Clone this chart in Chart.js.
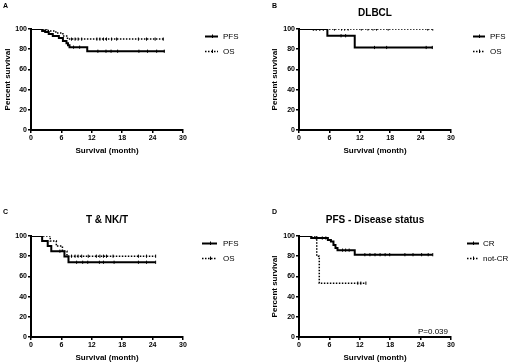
<!DOCTYPE html>
<html>
<head>
<meta charset="utf-8">
<script src="https://cdn.jsdelivr.net/npm/chart.js@4.4.1/dist/chart.umd.min.js"></script>
<style>
  html, body { margin: 0; padding: 0; background: #fff; }
  body { width: 520px; height: 364px; position: relative; overflow: hidden; font-family: Arial, "Liberation Sans", sans-serif; }
  .panel { position: absolute; width: 260px; height: 182px; }
  .letter { position: absolute; font: bold 7px/8px Arial, "Liberation Sans", sans-serif; color: #000; }
</style>
</head>
<body>
<div class="panel" style="left:0;top:0"><canvas id="cA" width="260" height="182"></canvas></div>
<div class="panel" style="left:260px;top:0"><canvas id="cB" width="260" height="182"></canvas></div>
<div class="panel" style="left:0;top:182px"><canvas id="cC" width="260" height="182"></canvas></div>
<div class="panel" style="left:260px;top:182px"><canvas id="cD" width="260" height="182"></canvas></div>
<div class="letter" style="left:3px;top:2px">A</div>
<div class="letter" style="left:272px;top:2px">B</div>
<div class="letter" style="left:3px;top:208px">C</div>
<div class="letter" style="left:272px;top:208px">D</div>
<script>
// ---------- tick labels ----------
const monthTicks = [0, 6, 12, 18, 24, 30];
const percentTicks = [0, 20, 40, 60, 80, 100];

// ---------- Panel A: all patients ----------
const aPfsTime = [0, 2.2, 2.8, 3.5, 4.3, 5.5, 6.3, 7.0, 7.3, 7.6, 11.1, 26.4];
const aPfsSurv = [100, 98, 97, 95, 93, 91, 88, 86, 84, 82, 78, 78];
const aPfsCensTime = [8.4, 9.6, 13.2, 14.8, 15.8, 17.1, 21.3, 23.0, 24.8, 26.3];
const aPfsCensSurv = [82, 82, 78, 78, 78, 78, 78, 78, 78, 78];
const aOsTime = [0, 3.4, 4.9, 6.3, 7.2, 26.4];
const aOsSurv = [100, 98, 96, 93, 90, 90];
const aOsCensTime = [2.9, 8.0, 8.7, 9.3, 10.0, 13.0, 13.6, 14.3, 14.9, 15.9, 16.9, 21.2, 22.8, 24.5, 26.1];
const aOsCensSurv = [100, 90, 90, 90, 90, 90, 90, 90, 90, 90, 90, 90, 90, 90, 90];

// ---------- Panel B: DLBCL ----------
const bPfsTime = [0, 5.6, 11.0, 26.4];
const bPfsSurv = [100, 93.3, 81.7, 81.7];
const bPfsCensTime = [2.9, 3.4, 4.1, 4.8, 8.3, 9.2, 14.9, 17.3, 25.1, 26.3];
const bPfsCensSurv = [100, 100, 100, 100, 93.3, 93.3, 81.7, 81.7, 81.7, 81.7];
const bOsTime = [0, 26.4];
const bOsSurv = [100, 100];
const bOsCensTime = [2.8, 3.4, 4.1, 4.8, 7.0, 8.4, 9.0, 9.7, 12.3, 13.6, 14.6, 15.3, 17.6, 25.4, 26.4];
const bOsCensSurv = [100, 100, 100, 100, 100, 100, 100, 100, 100, 100, 100, 100, 100, 100, 100];

// ---------- Panel C: T & NK/T ----------
const cPfsTime = [0, 2.2, 3.3, 4.0, 6.6, 7.4, 24.6];
const cPfsSurv = [100, 95, 90, 85, 79.7, 74, 74];
const cPfsCensTime = [5.7, 9.0, 10.2, 11.2, 13.5, 14.3, 16.4, 21.2, 22.8, 24.6];
const cPfsCensSurv = [85, 74, 74, 74, 74, 74, 74, 74, 74, 74];
const cOsTime = [0, 3.8, 5.0, 6.2, 7.1, 24.6];
const cOsSurv = [100, 95, 90, 85, 80, 80];
const cOsCensTime = [8.0, 8.7, 9.3, 10.0, 11.3, 12.9, 13.6, 14.3, 14.9, 16.2, 21.2, 22.8, 24.6];
const cOsCensSurv = [80, 80, 80, 80, 80, 80, 80, 80, 80, 80, 80, 80, 80];

// ---------- Panel D: PFS by disease status ----------
const dCrTime = [0, 2.4, 5.7, 6.3, 6.8, 7.2, 7.6, 11.0, 26.4];
const dCrSurv = [100, 98, 96, 94.5, 91, 88, 86, 81.5, 81.5];
const dCrCensTime = [3.4, 4.6, 5.3, 8.6, 9.2, 9.9, 13.0, 14.0, 15.0, 16.0, 17.0, 17.9, 20.9, 22.5, 24.2, 25.5, 26.4];
const dCrCensSurv = [98, 98, 98, 86, 86, 86, 81.5, 81.5, 81.5, 81.5, 81.5, 81.5, 81.5, 81.5, 81.5, 81.5, 81.5];
const dNcrTime = [0, 3.5, 4.0, 13.2];
const dNcrSurv = [100, 80, 53.3, 53.3];
const dNcrCensTime = [11.6, 12.2, 13.2];
const dNcrCensSurv = [53.3, 53.3, 53.3];
const dPValue = 'P=0.039';

// ---------- drawing ----------
const FONT = 'Arial, "Liberation Sans", sans-serif';
const INK = '#000';

const kmLegend = {
  id: 'kmLegend',
  afterDraw(chart, args, opts) {
    const { ctx, chartArea } = chart;
    const items = chart.data.datasets.filter(d => !d.isCensor);
    ctx.save();
    items.forEach((d, i) => {
      const y = Math.round(chartArea.top + opts.y0 + i * opts.gap) + 0.5;
      const x0 = chartArea.right + opts.x0, x1 = chartArea.right + opts.x1;
      ctx.strokeStyle = INK;
      ctx.lineWidth = d.borderWidth;
      ctx.setLineDash(d.borderDash || []);
      ctx.beginPath(); ctx.moveTo(x0, y); ctx.lineTo(x1, y); ctx.stroke();
      ctx.setLineDash([]);
      ctx.lineWidth = 1;
      const cx = Math.round((x0 + x1) / 2) + 0.5;
      ctx.beginPath(); ctx.moveTo(cx, y - 2); ctx.lineTo(cx, y + 1.5); ctx.stroke();
      ctx.fillStyle = INK;
      ctx.font = '8px ' + FONT;
      ctx.textAlign = 'left';
      ctx.textBaseline = 'middle';
      ctx.fillText(d.label, chartArea.right + opts.tx, y + 0.5);
    });
    if (opts.pText) {
      const xs = chart.scales.x, ys = chart.scales.y;
      ctx.font = '8px ' + FONT;
      ctx.textAlign = 'right';
      ctx.textBaseline = 'alphabetic';
      ctx.fillStyle = INK;
      ctx.fillText(opts.pText, xs.getPixelForValue(30) - 3, ys.getPixelForValue(0) - 3);
    }
    ctx.restore();
  }
};

function curve(label, times, surv, dashed) {
  return {
    label,
    data: times.map((t, i) => ({ x: t, y: surv[i] })),
    stepped: true,
    borderColor: INK,
    borderWidth: dashed ? 1.5 : 2,
    borderDash: dashed ? [1.5, 1.5] : [],
    pointRadius: 0,
    fill: false
  };
}
function censors(times, surv) {
  return {
    label: '',
    isCensor: true,
    data: times.map((t, i) => ({ x: t, y: surv[i] })),
    showLine: false,
    pointStyle: 'line',
    rotation: 90,
    pointRadius: 1.6,
    borderWidth: 1,
    borderColor: INK,
    backgroundColor: INK
  };
}

function makeChart(id, datasets, o) {
  return new Chart(document.getElementById(id), {
    type: 'line',
    data: { datasets },
    plugins: [kmLegend],
    options: {
      responsive: false,
      devicePixelRatio: 1,
      animation: false,
      events: [],
      layout: { padding: { left: o.padLeft, right: o.padRight, top: o.padTop, bottom: o.padBottom } },
      scales: {
        x: {
          type: 'linear', min: 0, max: 30,
          afterBuildTicks: s => { s.ticks = monthTicks.map(v => ({ value: v })); },
          afterFit: s => { s.height = 26; },
          border: { display: true, color: INK, width: 2 },
          grid: { display: true, drawOnChartArea: false, drawTicks: true, tickLength: 3, color: INK, lineWidth: 1.5 },
          ticks: { font: { family: FONT, size: 7, weight: 'bold' }, color: INK, padding: 1, maxRotation: 0 },
          title: { display: true, text: 'Survival (month)', color: INK, font: { family: FONT, size: 8, weight: 'bold' }, padding: { top: 0, bottom: 0 } }
        },
        y: {
          type: 'linear', min: 0, max: 100,
          afterBuildTicks: s => { s.ticks = percentTicks.map(v => ({ value: v })); },
          afterFit: s => { s.width = o.yWidth; },
          border: { display: true, color: INK, width: 2 },
          grid: { display: true, drawOnChartArea: false, drawTicks: true, tickLength: 3, color: INK, lineWidth: 1.5 },
          ticks: { font: { family: FONT, size: 7, weight: 'bold' }, color: INK, padding: 1 },
          title: { display: o.yTitle, text: 'Percent survival', color: INK, font: { family: FONT, size: 8, weight: 'bold' }, padding: { top: 3, bottom: 0 } }
        }
      },
      plugins: {
        legend: { display: false },
        tooltip: { enabled: false },
        title: {
          display: !!o.title, text: o.title || '', fullSize: false, align: 'center',
          color: INK, font: { family: FONT, size: 10, weight: 'bold' }, padding: { top: 0, bottom: 10 }
        },
        kmLegend: { x0: o.lx0, x1: o.lx1, tx: o.ltx, y0: o.ly0, gap: 15, pText: o.pText || '' }
      }
    }
  });
}

makeChart('cA', [
  curve('PFS', aPfsTime, aPfsSurv, false), censors(aPfsCensTime, aPfsCensSurv),
  curve('OS', aOsTime, aOsSurv, true), censors(aOsCensTime, aOsCensSurv)
], { padLeft: 0, padRight: 77, padTop: 29, padBottom: 26, yWidth: 31, yTitle: true, lx0: 22, lx1: 35, ltx: 40, ly0: 7 });

makeChart('cB', [
  curve('PFS', bPfsTime, bPfsSurv, false), censors(bPfsCensTime, bPfsCensSurv),
  curve('OS', bOsTime, bOsSurv, true), censors(bOsCensTime, bOsCensSurv)
], { title: 'DLBCL', padLeft: 7, padRight: 69, padTop: 7, padBottom: 26, yWidth: 32, yTitle: true, lx0: 22, lx1: 34, ltx: 39, ly0: 7 });

makeChart('cC', [
  curve('PFS', cPfsTime, cPfsSurv, false), censors(cPfsCensTime, cPfsCensSurv),
  curve('OS', cOsTime, cOsSurv, true), censors(cOsCensTime, cOsCensSurv)
], { title: 'T & NK/T', padLeft: 0, padRight: 77, padTop: 32, padBottom: 1, yWidth: 31, yTitle: false, lx0: 19, lx1: 34, ltx: 40, ly0: 6.5 });

makeChart('cD', [
  curve('CR', dCrTime, dCrSurv, false), censors(dCrCensTime, dCrCensSurv),
  curve('not-CR', dNcrTime, dNcrSurv, true), censors(dNcrCensTime, dNcrCensSurv)
], { title: 'PFS - Disease status', padLeft: 7, padRight: 69, padTop: 32, padBottom: 1, yWidth: 32, yTitle: true, lx0: 16, lx1: 28, ltx: 32, ly0: 6.5, pText: dPValue });
</script>
</body>
</html>
